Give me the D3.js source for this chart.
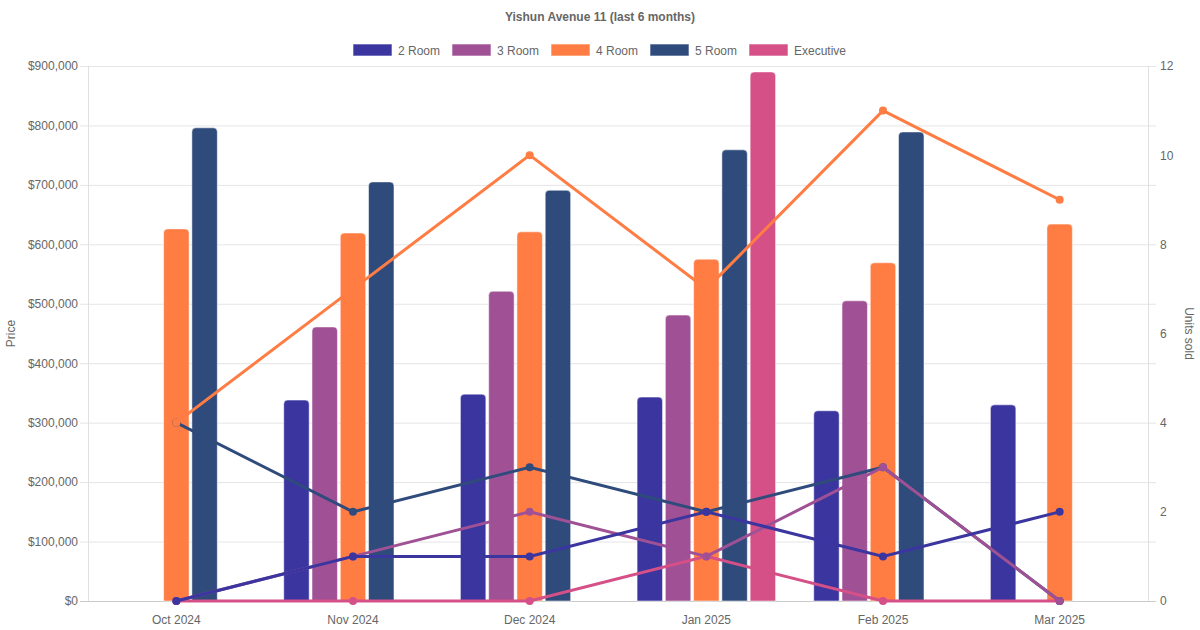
<!DOCTYPE html>
<html>
<head>
<meta charset="utf-8">
<script src="https://cdn.jsdelivr.net/npm/d3@7.9.0/dist/d3.min.js"></script>
<style>
  body { margin: 0; background: #fff; }
  text { font-family: Arial, "Liberation Sans", Helvetica, sans-serif; }
</style>
</head>
<body>
<svg id="chart" width="1200" height="630"></svg>
<script>
const months = ['Oct 2024', 'Nov 2024', 'Dec 2024', 'Jan 2025', 'Feb 2025', 'Mar 2025'];
const flatTypes = ['2 Room', '3 Room', '4 Room', '5 Room', 'Executive'];
const colors = ['#3b35a0', '#a05195', '#ff7c43', '#2f4b7c', '#d45087'];

// median price per month (null = no sale)
const price2 = [null, 338000, 348000, 343000, 320000, 330000];
const price3 = [null, 461000, 521000, 481000, 505000, null];
const price4 = [626000, 619000, 621000, 575000, 569000, 634000];
const price5 = [796000, 705000, 691000, 759000, 789000, null];
const priceExec = [null, null, null, 890000, null, null];

// units sold per month
const units2 = [0, 1, 1, 2, 1, 2];
const units3 = [0, 1, 2, 1, 3, 0];
const units4 = [4, 7, 10, 7, 11, 9];
const units5 = [4, 2, 3, 2, 3, 0];
const unitsExec = [0, 0, 0, 1, 0, 0];

const priceTicks = [0, 100000, 200000, 300000, 400000, 500000, 600000, 700000, 800000, 900000];
const unitTicks = [0, 2, 4, 6, 8, 10, 12];

const prices = [price2, price3, price4, price5, priceExec];
const units = [units2, units3, units4, units5, unitsExec];

const svg = d3.select('#chart');
const plotL = 88, plotR = 1148, plotT = 66, plotB = 601;
const textColor = '#666';

const x = d3.scaleBand().domain(months).range([plotL, plotR]);
const inner = d3.scaleBand().domain(flatTypes).range([0, x.bandwidth() * 0.8]).paddingInner(0.1).paddingOuter(0.05);
const yPrice = d3.scaleLinear().domain([0, 900000]).range([plotB, plotT]);
const yUnits = d3.scaleLinear().domain([0, 12]).range([plotB, plotT]);

// title
svg.append('text').attr('x', 600).attr('y', 21).attr('text-anchor', 'middle')
    .attr('font-size', 12).attr('font-weight', 'bold').attr('fill', textColor)
    .text('Yishun Avenue 11 (last 6 months)');

// legend
const legendX = [353, 452, 551, 650, 749];
flatTypes.forEach((t, i) => {
    const g = svg.append('g').attr('transform', `translate(${legendX[i]},44)`);
    g.append('rect').attr('width', 39).attr('height', 12).attr('fill', colors[i])
        .attr('stroke', 'rgba(255,255,255,0.6)').attr('stroke-width', 1);
    g.append('text').attr('x', 45).attr('y', 10.5).attr('font-size', 12)
        .attr('fill', textColor).text(t);
});

// grid
svg.append('g').selectAll('line').data(priceTicks).join('line')
    .attr('x1', plotL - 8).attr('x2', plotR + 8)
    .attr('y1', d => yPrice(d) + 0.5).attr('y2', d => yPrice(d) + 0.5)
    .attr('stroke', d => d === 0 ? '#ccc' : '#e5e5e5').attr('stroke-width', 1);

svg.append('line').attr('x1', plotL + 0.5).attr('x2', plotL + 0.5).attr('y1', plotT).attr('y2', plotB)
    .attr('stroke', '#e0e0e0');
svg.append('line').attr('x1', plotR + 0.5).attr('x2', plotR + 0.5).attr('y1', plotT).attr('y2', plotB)
    .attr('stroke', '#e0e0e0');

// left axis
const fmt = d => '$' + d3.format(',')(d);
const leftAxis = svg.append('g').attr('transform', `translate(${plotL - 10},0)`)
    .call(d3.axisLeft(yPrice).tickValues(priceTicks).tickFormat(fmt).tickSize(0).tickPadding(0));
leftAxis.select('.domain').remove();
leftAxis.selectAll('text').attr('font-size', 12).attr('fill', textColor).attr('font-family', null);

// right axis
const rightAxis = svg.append('g').attr('transform', `translate(${plotR + 12},0)`)
    .call(d3.axisRight(yUnits).tickValues(unitTicks).tickSize(0).tickPadding(0));
rightAxis.select('.domain').remove();
rightAxis.selectAll('text').attr('font-size', 12).attr('fill', textColor).attr('font-family', null);

// x axis
const xAxis = svg.append('g').attr('transform', `translate(0,${plotB + 8})`)
    .call(d3.axisBottom(x).tickSize(0).tickPadding(6));
xAxis.select('.domain').remove();
xAxis.selectAll('text').attr('font-size', 12).attr('fill', textColor).attr('font-family', null);

// axis titles
svg.append('text').attr('transform', `translate(15,${(plotT + plotB) / 2}) rotate(-90)`)
    .attr('text-anchor', 'middle').attr('font-size', 12).attr('fill', textColor).text('Price');
svg.append('text').attr('transform', `translate(1185,${(plotT + plotB) / 2}) rotate(90)`)
    .attr('text-anchor', 'middle').attr('font-size', 12).attr('fill', textColor).text('Units sold');

// bars
const barW = inner.bandwidth();
const radius = 4;
function barPath(x0, y0, w, h) {
    const r = Math.min(radius, h);
    return `M${x0},${y0 + h}V${y0 + r}Q${x0},${y0} ${x0 + r},${y0}H${x0 + w - r}Q${x0 + w},${y0} ${x0 + w},${y0 + r}V${y0 + h}Z`;
}
const bars = svg.append('g');
prices.forEach((series, i) => {
    series.forEach((v, j) => {
        if (v === null) return;
        const bx = x(months[j]) + x.bandwidth() * 0.1 + inner(flatTypes[i]);
        const by = yPrice(v);
        bars.append('path').attr('d', barPath(bx, by, barW, plotB - by))
            .attr('fill', colors[i]).attr('stroke', 'rgba(255,255,255,0.5)').attr('stroke-width', 1);
    });
});

// lines (first series on top)
const cx = m => x(m) + x.bandwidth() / 2;
const line = d3.line().x((d, j) => cx(months[j])).y(d => yUnits(d));
for (let i = units.length - 1; i >= 0; i--) {
    const g = svg.append('g');
    g.append('path').attr('d', line(units[i])).attr('fill', 'none')
        .attr('stroke', colors[i]).attr('stroke-width', 3);
    g.selectAll('circle').data(units[i]).join('circle')
        .attr('cx', (d, j) => cx(months[j])).attr('cy', d => yUnits(d))
        .attr('r', 4).attr('fill', colors[i]);
}
</script>
</body>
</html>
